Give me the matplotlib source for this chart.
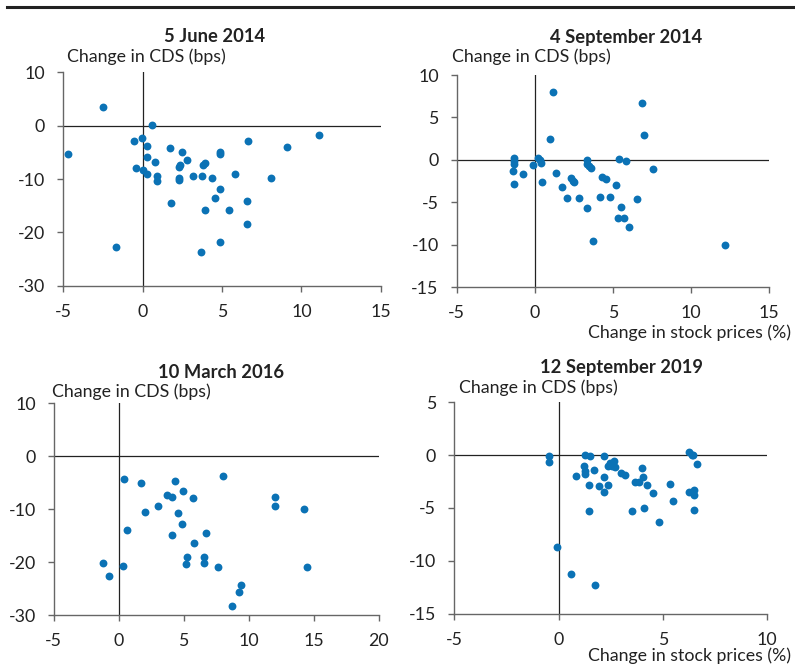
import matplotlib
matplotlib.use("Agg")
import matplotlib.pyplot as plt

plt.rcParams['font.family'] = ['Lato', 'DejaVu Sans']
plt.rcParams['axes.unicode_minus'] = False

# panel titles and axis settings
titles = ["5 June 2014", "4 September 2014", "10 March 2016", "12 September 2019"]
xlims = [(-5, 15), (-5, 15), (-5, 20), (-5, 10)]
ylims = [(-30, 10), (-15, 10), (-30, 10), (-15, 5)]
xticks = [[-5, 0, 5, 10, 15], [-5, 0, 5, 10, 15], [-5, 0, 5, 10, 15, 20], [-5, 0, 5, 10]]
yticks = [[-30, -20, -10, 0, 10], [-15, -10, -5, 0, 5, 10], [-30, -20, -10, 0, 10], [-15, -10, -5, 0, 5]]

# 5 June 2014
jun14_x = [-2.52, -4.71, 0.57, -0.53, -0.06, 0.25, 0.25, 0.76, -0.44, 0.0, 0.25, 0.88, 0.88,
           1.70, 2.46, 2.77, 2.37, 2.29, 2.27, 2.27, 3.19, 3.72, 3.91, 3.82, 4.39, 4.85, 4.85,
           4.85, 4.58, 1.81, 3.91, 5.42, 5.80, 6.66, 6.60, 6.60, 4.85, 3.66, -1.70, 8.07, 9.12, 11.13]
jun14_y = [3.5, -5.3, 0.1, -2.9, -2.25, -3.8, -5.9, -6.8, -7.9, -8.4, -9.1, -9.4, -10.4,
           -4.2, -5.0, -6.4, -7.3, -7.75, -9.75, -10.2, -9.4, -9.4, -7.0, -7.4, -9.9, -4.9, -5.4,
           -11.9, -13.6, -14.5, -15.8, -15.9, -9.1, -2.9, -14.1, -18.4, -21.9, -23.6, -22.7, -9.8, -4.0, -1.7]

# 4 September 2014
sep14_x = [1.14, 0.97, 6.88, 7.00, -1.35, -1.35, -1.35, -1.42, -1.35, -0.78, -0.10, 0.18, 0.33,
           0.39, 0.44, 1.38, 1.72, 2.29, 2.42, 2.48, 2.08, 2.85, 3.36, 3.36, 3.49, 3.57, 3.36,
           3.74, 4.19, 4.32, 4.57, 4.83, 5.21, 5.36, 5.81, 5.53, 5.34, 5.68, 6.00, 6.56, 7.58, 12.19]
sep14_y = [7.96, 2.43, 6.66, 2.90, 0.19, -0.13, -0.52, -1.34, -2.87, -1.66, -0.64, 0.22, 0.0,
           -0.32, -2.64, -1.58, -3.23, -2.17, -2.44, -2.64, -4.52, -4.52, 0.03, -0.52, -0.75, -0.99, -5.70,
           -9.54, -4.40, -2.01, -2.21, -4.40, -2.99, 0.07, -0.16, -5.58, -6.80, -6.88, -7.94, -4.60, -1.11, -10.02]

# 10 March 2016
mar16_x = [-1.21, -0.77, 0.31, 0.38, 0.62, 1.69, 2.0, 3.0, 3.74, 4.10, 4.31, 4.08, 4.56, 4.92,
           4.85, 5.69, 5.77, 5.26, 5.15, 6.54, 6.54, 6.69, 7.62, 8.0, 8.69, 9.23, 9.38, 12.0, 12.0,
           14.23, 14.46]
mar16_y = [-20.24, -22.69, -20.80, -4.36, -14.0, -4.99, -10.6, -9.46, -7.39, -7.64, -4.61, -14.82,
           -10.79, -6.5, -12.87, -7.83, -16.33, -19.04, -20.43, -19.04, -20.24, -14.57, -20.99, -3.80,
           -28.30, -25.72, -24.39, -7.76, -9.34, -10.03, -20.99]

# 12 September 2019
sep19_x = [-0.45, -0.45, -0.08, 0.59, 0.83, 1.25, 1.20, 1.26, 1.26, 1.45, 1.45, 1.52, 1.69, 1.76,
           1.93, 2.17, 2.17, 2.17, 2.36, 2.36, 2.46, 2.57, 2.67, 2.70, 2.97, 3.18, 3.53, 3.64, 3.85,
           4.01, 4.04, 4.09, 4.23, 4.52, 4.81, 5.35, 5.48, 6.26, 6.39, 6.26, 6.50, 6.49, 6.47, 6.63, 6.42]
sep19_y = [-0.05, -0.65, -8.69, -11.25, -1.94, 0.02, -0.99, -1.50, -1.78, -2.82, -5.28, -0.08, -1.40,
           -12.29, -2.89, -0.08, -2.03, -3.49, -2.82, -1.02, -0.71, -1.02, -0.52, -1.12, -1.66, -1.88,
           -5.25, -2.57, -2.57, -1.21, -2.07, -5.0, -2.82, -3.58, -6.33, -2.73, -4.34, 0.30, -0.01,
           -3.49, -3.30, -3.80, -5.19, -0.84, 0.0]

xs = [jun14_x, sep14_x, mar16_x, sep19_x]
ys = [jun14_y, sep14_y, mar16_y, sep19_y]

W, H = 795, 664
# axes boxes in pixels: left, top, right, bottom
boxes = [(63.3, 72.3, 380.7, 285.7), (456.7, 75.0, 769.3, 287.3),
         (53.7, 403.3, 378.7, 615.0), (454.3, 402.3, 767.3, 613.7)]
title_pos = [(215, 36), (626, 37), (221, 372), (621, 368)]
ylab_pos = [(66.7, 57), (451.7, 57), (52.3, 392), (459.3, 388)]

dot = '#0b72b5'
spine = '#666666'
fs = 12.8

fig = plt.figure(figsize=(W / 100, H / 100), dpi=100)

# header rule
fig.add_artist(plt.Line2D([7 / W, 1], [1 - 7 / H, 1 - 7 / H], color='#222222', lw=2.2))

for i in range(4):
    l, t, r, b = boxes[i]
    ax = fig.add_axes([l / W, 1 - b / H, (r - l) / W, (b - t) / H])
    ax.scatter(xs[i], ys[i], s=32, color=dot, zorder=3, linewidths=0)
    ax.axhline(0, color='#222222', lw=0.9, zorder=2)
    ax.axvline(0, color='#222222', lw=0.9, zorder=2)
    ax.set_xlim(*xlims[i])
    ax.set_ylim(*ylims[i])
    ax.set_xticks(xticks[i])
    ax.set_yticks(yticks[i])
    for s in ['top', 'right']:
        ax.spines[s].set_visible(False)
    for s in ['left', 'bottom']:
        ax.spines[s].set_color(spine)
        ax.spines[s].set_linewidth(1.0)
    ax.tick_params(axis='both', direction='out', length=4, width=1.0, color=spine,
                   labelsize=fs, labelcolor='#222222')
    ax.tick_params(axis='x', pad=9)
    ax.tick_params(axis='y', pad=9)
    ax.patch.set_visible(False)

    tx, ty = title_pos[i]
    fig.text(tx / W, 1 - ty / H, titles[i], ha='center', va='center',
             fontsize=13.2, fontweight='bold', color='#222222')
    lx, ly = ylab_pos[i]
    fig.text(lx / W, 1 - ly / H, "Change in CDS (bps)", ha='left', va='center',
             fontsize=fs, color='#222222')

fig.text(791 / W, 1 - 333 / H, "Change in stock prices (%)", ha='right', va='center',
         fontsize=fs, color='#222222')
fig.text(791 / W, 1 - 656 / H, "Change in stock prices (%)", ha='right', va='center',
         fontsize=fs, color='#222222')

fig.savefig("out.png", dpi=100)
